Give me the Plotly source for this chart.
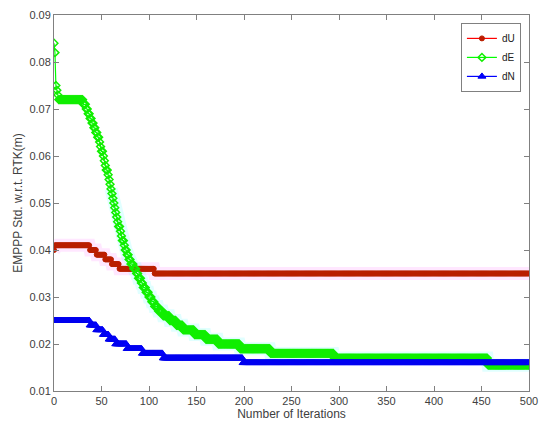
import numpy as np
import plotly.graph_objects as go

N_ITER = 501

# Step data: iteration at which each level begins, and the level value
dU_start = [0, 1, 38, 45, 54, 61, 69, 106]
dU_level = [0.040, 0.041, 0.040, 0.039, 0.038, 0.037, 0.036, 0.035]

dN_start = [0, 38, 45, 52, 58, 65, 77, 93, 115, 199]
dN_level = [0.025, 0.024, 0.023, 0.022, 0.021, 0.020, 0.019, 0.018, 0.017, 0.016]

dE_start = [0, 1, 2, 3, 4, 5, 31, 34, 36, 38, 40, 42, 44, 46, 48, 49, 50, 52, 53, 54,
            55, 57, 58, 59, 60, 61, 62, 63, 64, 65, 66, 67, 68, 70, 71, 72, 74, 75, 77,
            79, 81, 84, 87, 89, 92, 94, 97, 100, 103, 106, 110, 115, 122, 129, 136, 148,
            160, 173, 196, 228, 295, 457]
dE_level = [0.084, 0.082, 0.075, 0.074, 0.073, 0.072, 0.071, 0.070, 0.069, 0.068, 0.067,
            0.066, 0.065, 0.064, 0.063, 0.062, 0.061, 0.060, 0.059, 0.058, 0.057, 0.056,
            0.055, 0.054, 0.053, 0.052, 0.051, 0.050, 0.049, 0.048, 0.047, 0.046, 0.045,
            0.044, 0.043, 0.042, 0.041, 0.040, 0.039, 0.038, 0.037, 0.036, 0.035, 0.034,
            0.033, 0.032, 0.031, 0.030, 0.029, 0.028, 0.027, 0.026, 0.025, 0.024, 0.023,
            0.022, 0.021, 0.020, 0.019, 0.018, 0.017, 0.0155]

x_ticks = [0, 50, 100, 150, 200, 250, 300, 350, 400, 450, 500]
y_ticks = [0.01, 0.02, 0.03, 0.04, 0.05, 0.06, 0.07, 0.08, 0.09]


def expand(starts, levels):
    starts = list(starts) + [N_ITER]
    counts = np.diff(starts)
    return np.repeat(levels, counts)


iters = np.arange(N_ITER)
dU = expand(dU_start, dU_level)
dE = expand(dE_start, dE_level)
dN = expand(dN_start, dN_level)

fig = go.Figure()

# faint colour halos (as seen around the bands in the reference)
fig.add_trace(go.Scatter(x=iters, y=dU, mode="lines", line=dict(color="rgba(255,120,255,0.18)", width=13),
                         hoverinfo="skip", showlegend=False))
fig.add_trace(go.Scatter(x=iters[60:], y=dE[60:], mode="lines", line=dict(color="rgba(120,255,255,0.22)", width=13),
                         hoverinfo="skip", showlegend=False))

fig.add_trace(go.Scatter(
    x=iters, y=dU, mode="lines+markers", name="dU",
    line=dict(color="#ff0000", width=1.2),
    marker=dict(symbol="circle", size=5, color="#c01a00", line=dict(color="#b82000", width=1)),
))
fig.add_trace(go.Scatter(
    x=iters, y=dE, mode="lines+markers", name="dE",
    line=dict(color="#00ff00", width=1.2),
    marker=dict(symbol="diamond-open", size=6, color="#11ee00", line=dict(width=1.5)),
))
fig.add_trace(go.Scatter(
    x=iters, y=dN, mode="lines+markers", name="dN",
    line=dict(color="#0000ff", width=1.2),
    marker=dict(symbol="triangle-up", size=7, color="#0000ff", line=dict(color="#0000ee", width=1)),
))

axis_common = dict(
    showline=True, linecolor="#808080", linewidth=1, mirror="allticks",
    ticks="inside", ticklen=5, tickcolor="#808080", showgrid=False, zeroline=False,
    automargin=False,
    tickfont=dict(family="Liberation Sans, Arial, sans-serif", size=11, color="#404040"),
)

fig.update_layout(
    width=542, height=423,
    margin=dict(l=46, r=21, t=7, b=40),
    paper_bgcolor="white", plot_bgcolor="white",
    font=dict(family="Liberation Sans, Arial, sans-serif", size=11, color="#404040"),
    xaxis=dict(range=[0, 500], tickvals=x_ticks, title=dict(text="Number of Iterations", standoff=0,
               font=dict(size=12, color="#404040")), **axis_common),
    yaxis=dict(range=[0.01, 0.09], tickvals=y_ticks, tickformat=".2f",
               title=dict(text="EMPPP Std. w.r.t. RTK(m)", standoff=4, font=dict(size=12, color="#404040")),
               **axis_common),
    legend=dict(x=0.983, y=0.979, xanchor="right", yanchor="top", bgcolor="white",
                bordercolor="#808080", borderwidth=1, font=dict(size=10, color="#202020"),
                tracegroupgap=0, itemwidth=30),
    showlegend=True,
)

fig.write_html("out.html")
